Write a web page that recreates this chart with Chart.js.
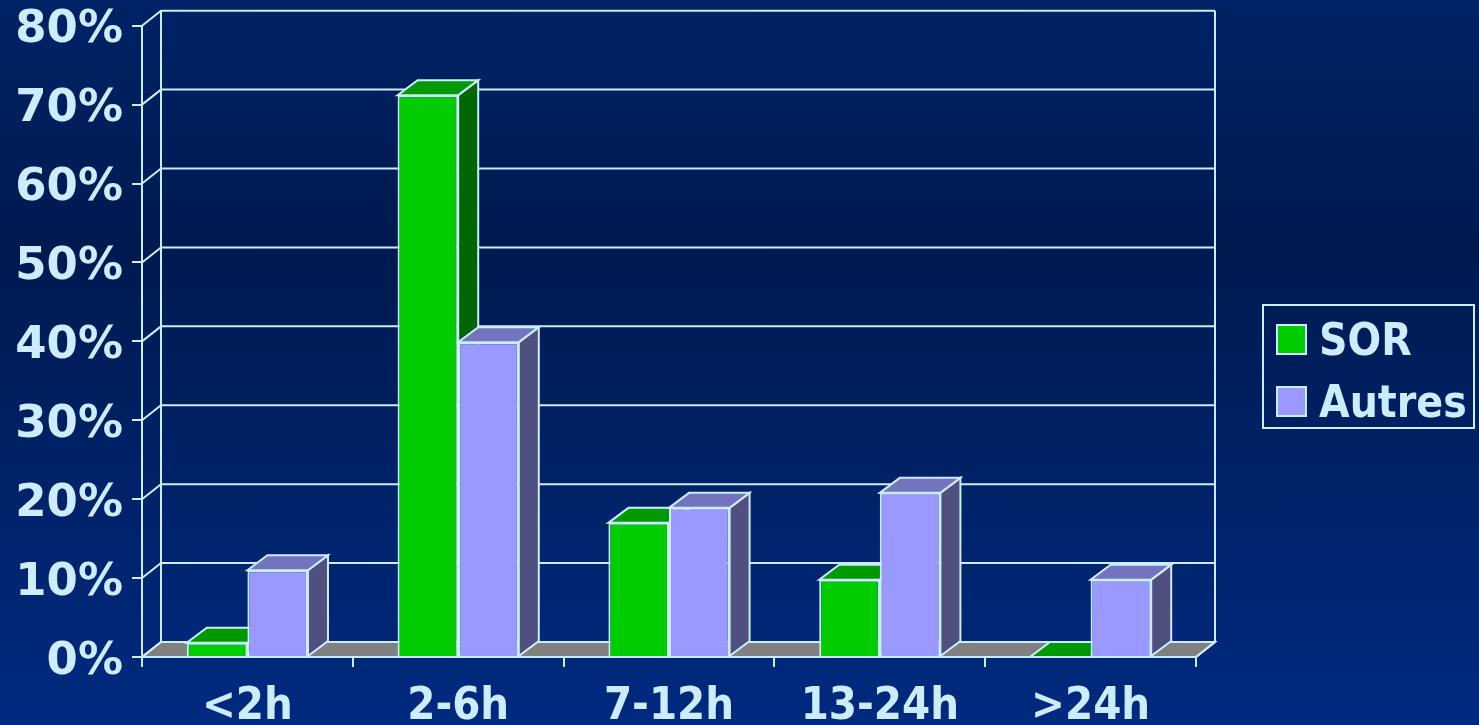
<!DOCTYPE html>
<html>
<head>
<meta charset="utf-8">
<script src="https://cdn.jsdelivr.net/npm/chart.js@4"></script>
<style>
  html, body { margin: 0; padding: 0; }
  body {
    width: 1479px; height: 725px; overflow: hidden; position: relative;
    background: linear-gradient(180deg, #002266 0%, #001a50 34%, #002a80 100%);
  }
  canvas { position: absolute; left: 0; top: 0; }
  #legend {
    position: absolute; left: 1262px; top: 304px; width: 209px; height: 121px;
    border: 2px solid #ccecff; color: #ccecff;
    font: bold 44px "DejaVu Sans Condensed", "DejaVu Sans";
    font-stretch: condensed;
  }
  #legend div { position: absolute; left: 12px; height: 30px; line-height: 31px; white-space: nowrap; }
  #legend i { display: inline-block; width: 27px; height: 27px; border: 2px solid #ccecff; vertical-align: top; margin-right: 12px; }
</style>
</head>
<body>
<canvas id="chart" width="1479" height="725"></canvas>
<div id="legend"></div>
<script>
const categories = ['<2h', '2-6h', '7-12h', '13-24h', '>24h'];
const sorValues = [1.8, 71.2, 17, 9.8, 0];
const autresValues = [11, 39.9, 18.9, 20.8, 9.8];
const yTicks = [0, 10, 20, 30, 40, 50, 60, 70, 80];

const lineColor = '#ccecff';
const wallDepthX = 19;
const barDepthX = 20;
const depthY = 15;

// fill a 4 point face and outline it
const face = (ctx, pts, fill) => {
  ctx.beginPath();
  pts.forEach((p, i) => i ? ctx.lineTo(p[0], p[1]) : ctx.moveTo(p[0], p[1]));
  ctx.closePath();
  ctx.fillStyle = fill;
  ctx.fill();
  ctx.stroke();
};

// back wall, floor and the top and side of each bar
const depthPlugin = {
  id: 'depth',
  beforeDatasetsDraw(chart) {
    const { ctx, scales: { x, y }, chartArea: a } = chart;
    ctx.save();
    ctx.strokeStyle = lineColor;
    ctx.lineWidth = 2;
    const base = y.getPixelForValue(0);
    face(ctx, [[a.left, base], [a.right, base], [a.right + wallDepthX, base - depthY], [a.left + wallDepthX, base - depthY]], '#808080');
    yTicks.forEach(t => {
      const py = y.getPixelForValue(t);
      ctx.beginPath();
      ctx.moveTo(a.left, py);
      ctx.lineTo(a.left + wallDepthX, py - depthY);
      ctx.lineTo(a.right + wallDepthX, py - depthY);
      ctx.stroke();
    });
    const top = y.getPixelForValue(80) - depthY;
    ctx.beginPath();
    ctx.moveTo(a.left + wallDepthX, top);
    ctx.lineTo(a.left + wallDepthX, base - depthY);
    ctx.moveTo(a.right + wallDepthX, top);
    ctx.lineTo(a.right + wallDepthX, base - depthY);
    ctx.lineTo(a.right, base);
    ctx.stroke();
    chart.data.datasets.forEach((ds, d) => {
      chart.getDatasetMeta(d).data.forEach(bar => {
        const l = bar.x - bar.width / 2;
        const r = bar.x + bar.width / 2;
        face(ctx, [[r, bar.y], [r, bar.base], [r + barDepthX, bar.base - depthY], [r + barDepthX, bar.y - depthY]], ds.sideColor);
        face(ctx, [[l, bar.y], [r, bar.y], [r + barDepthX, bar.y - depthY], [l + barDepthX, bar.y - depthY]], ds.topColor);
      });
    });
    ctx.restore();
  },
};

const chart = new Chart(document.getElementById('chart'), {
  type: 'bar',
  data: {
    labels: categories,
    datasets: [
      { label: 'SOR', data: sorValues, backgroundColor: '#00cc00', topColor: '#009900', sideColor: '#006600', borderColor: lineColor, borderWidth: 2, clip: false },
      { label: 'Autres', data: autresValues, backgroundColor: '#9999ff', topColor: '#7373bf', sideColor: '#4f4f80', borderColor: lineColor, borderWidth: 2, clip: false },
    ],
  },
  options: {
    responsive: false,
    animation: false,
    layout: { padding: { top: 25.7, right: 283, left: 0, bottom: 0 } },
    plugins: { title: { display: false }, legend: { display: false }, tooltip: { enabled: false } },
    datasets: { bar: { categoryPercentage: 0.575, barPercentage: 1 } },
    scales: {
      x: {
        afterFit: scale => { scale.height = 68; scale.paddingLeft = 0; scale.paddingRight = 0; },
        grid: { drawOnChartArea: false, color: lineColor, lineWidth: 2, tickLength: 10 },
        border: { color: lineColor, width: 2 },
        ticks: {
          color: lineColor,
          padding: 13,
          maxRotation: 0,
          font: { family: '"DejaVu Sans Condensed", "DejaVu Sans"', size: 45, weight: 'bold' },
        },
      },
      y: {
        min: 0,
        max: 80,
        afterFit: scale => { scale.width = 142; scale.paddingTop = 0; scale.paddingBottom = 0; },
        afterBuildTicks: scale => { scale.ticks = yTicks.map(value => ({ value })); },
        grid: { drawOnChartArea: false, color: lineColor, lineWidth: 2, tickLength: 10 },
        border: { color: lineColor, width: 2 },
        ticks: {
          color: lineColor,
          padding: 9,
          labelOffset: 5,
          callback: v => v + '%',
          font: { family: '"DejaVu Sans"', size: 45, weight: 'bold' },
        },
      },
    },
  },
  plugins: [depthPlugin],
});

// html legend built from the datasets
const legendBox = document.getElementById('legend');
chart.data.datasets.forEach((ds, i) => {
  const row = document.createElement('div');
  row.style.top = (18 + i * 62) + 'px';
  const swatch = document.createElement('i');
  swatch.style.background = ds.backgroundColor;
  row.appendChild(swatch);
  row.appendChild(document.createTextNode(ds.label));
  legendBox.appendChild(row);
});
</script>
</body>
</html>
